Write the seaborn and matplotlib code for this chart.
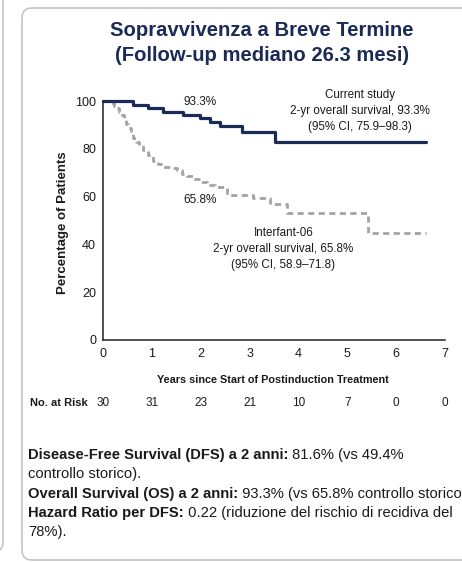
import numpy as np
import pandas as pd
import seaborn as sns
from matplotlib import pyplot as plt
from matplotlib.patches import FancyBboxPatch

# Kaplan-Meier curves (years, % surviving)
current_t = [0, 0.62, 0.93, 1.22, 1.64, 1.98, 2.20, 2.39, 2.84, 3.52, 6.62]
current_s = [100, 98.5, 97, 95.3, 94.2, 93, 91.4, 89.6, 87, 83, 83]

interfant_t = [0, 0.14, 0.22, 0.28, 0.33, 0.38, 0.43, 0.48, 0.52, 0.57, 0.62, 0.67,
               0.73, 0.82, 0.92, 1.03, 1.13, 1.23, 1.40, 1.51, 1.62, 1.71, 1.85,
               1.98, 2.12, 2.30, 2.53, 3.07, 3.42, 3.76, 5.43, 6.62]
interfant_s = [100, 99, 98, 97, 95.5, 94, 92, 90.5, 88.5, 86.5, 84.5, 83,
               81.5, 79.7, 77.5, 75, 73.5, 72.2, 71.8, 71, 69.5, 68.5, 67.2,
               66.2, 64.7, 64, 60.8, 59.3, 56.7, 53, 44.8, 44.8]

risk_years = [0, 1, 2, 3, 4, 5, 6, 7]
at_risk = [30, 31, 23, 21, 10, 7, 0, 0]

title = "Sopravvivenza a Breve Termine\n(Follow-up mediano 26.3 mesi)"
summary = [
    ("Disease-Free Survival (DFS) a 2 anni:", " 81.6% (vs 49.4%"),
    ("", "controllo storico)."),
    ("Overall Survival (OS) a 2 anni:", " 93.3% (vs 65.8% controllo storico)."),
    ("Hazard Ratio per DFS:", " 0.22 (riduzione del rischio di recidiva del"),
    ("", "78%)."),
]

NAVY = "#1b2b57"
GREY = "#a3a3a3"
TXT = "#1a1a1a"

sns.set_theme(style="white")
plt.rcParams["font.family"] = ["Liberation Sans", "DejaVu Sans"]

W, H = 462, 562
fig = plt.figure(figsize=(W / 100, H / 100), dpi=100)


def px(x0, y0, x1, y1):
    # pixel box (top-left origin) -> figure fraction rect
    return [x0 / W, 1 - y1 / H, (x1 - x0) / W, (y1 - y0) / H]


# panel frames
bg = fig.add_axes([0, 0, 1, 1])
bg.set_xlim(0, W)
bg.set_ylim(H, 0)
bg.axis("off")
bg.add_patch(FancyBboxPatch((22, 8), 470, 552, boxstyle="round,pad=0,rounding_size=10",
                            fc="none", ec="#c4c4c4", lw=1.2))
bg.add_patch(FancyBboxPatch((-100, -20), 103, 572, boxstyle="round,pad=0,rounding_size=10",
                            fc="none", ec="#c4c4c4", lw=1.2))

fig.text(262 / W, 1 - 43 / H, title, ha="center", va="center", fontsize=14.6,
         fontweight="bold", color=NAVY, linespacing=1.35)

ax = fig.add_axes(px(103, 101, 445, 340))
df_cur = pd.DataFrame({"t": current_t, "s": current_s})
df_int = pd.DataFrame({"t": interfant_t, "s": interfant_s})
sns.lineplot(data=df_int, x="t", y="s", ax=ax, color=GREY, lw=2, drawstyle="steps-post",
             linestyle=(0, (2.2, 1.6)), clip_on=False)
sns.lineplot(data=df_cur, x="t", y="s", ax=ax, color=NAVY, lw=2.3, drawstyle="steps-post",
             clip_on=False)

ax.set_xlim(0, 7)
ax.set_ylim(0, 100)
ax.set_xticks(risk_years)
ax.set_yticks([0, 20, 40, 60, 80, 100])
for s in ["top", "right"]:
    ax.spines[s].set_visible(False)
for s in ["left", "bottom"]:
    ax.spines[s].set_color("#222222")
    ax.spines[s].set_linewidth(1.1)
ax.tick_params(axis="x", direction="inout", length=6, width=1, labelsize=9, pad=3, colors=TXT)
ax.tick_params(axis="y", direction="out", length=4, width=1, labelsize=9, pad=1, colors=TXT)
ax.set_xlabel("Years since Start of Postinduction Treatment", fontsize=7.8, fontweight="bold", color=TXT)
ax.xaxis.set_label_coords(0.497, -0.167)
ax.xaxis.label.set_va("center")
ax.set_ylabel("Percentage of Patients", fontsize=9.5, fontweight="bold", color=TXT)
ax.yaxis.set_label_coords(-0.117, 0.49)
ax.yaxis.label.set_va("center")

ax.text(1.98, 99.5, "93.3%", ha="center", va="center", fontsize=8.5, color=TXT)
ax.text(1.98, 58.6, "65.8%", ha="center", va="center", fontsize=8.5, color=TXT)
ax.text(5.26, 96, "Current study\n2-yr overall survival, 93.3%\n(95% CI, 75.9\u201398.3)",
        ha="center", va="center", fontsize=8.4, color=TXT, linespacing=1.45)
ax.text(3.69, 38, "Interfant-06\n2-yr overall survival, 65.8%\n(95% CI, 58.9\u201371.8)",
        ha="center", va="center", fontsize=8.4, color=TXT, linespacing=1.45)

# number at risk row
risk_y = (340 - 403) / 239
tr = ax.get_xaxis_transform()
ax.text(-0.31, risk_y, "No. at Risk", transform=tr, ha="right", va="center",
        fontsize=8, fontweight="bold", color=TXT, clip_on=False)
for x, n in zip(risk_years, at_risk):
    ax.text(x, risk_y, str(n), transform=tr, ha="center", va="center", fontsize=8.5,
            color=TXT, clip_on=False)

# summary lines with bold lead-in
fig.canvas.draw()
renderer = fig.canvas.get_renderer()
line_y = [455, 474, 494, 513, 532]
for (bold, rest), y in zip(summary, line_y):
    x0 = 28
    if bold:
        t = fig.text(x0 / W, 1 - y / H, bold, ha="left", va="center", fontsize=10.6,
                     fontweight="bold", color=TXT)
        x0 += t.get_window_extent(renderer).width
    fig.text(x0 / W, 1 - y / H, rest, ha="left", va="center", fontsize=10.6, color=TXT)

fig.savefig("out.png", dpi=100)
